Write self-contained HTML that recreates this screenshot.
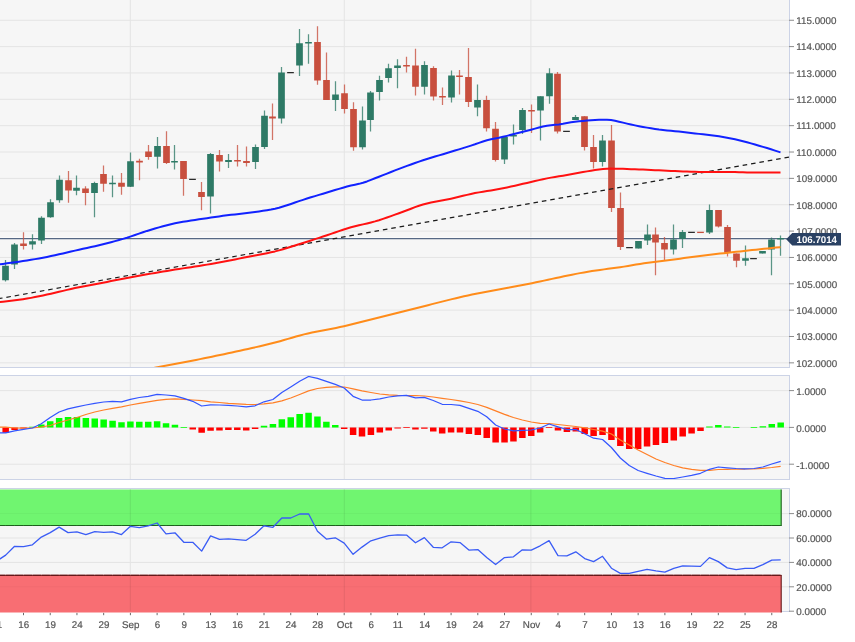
<!DOCTYPE html>
<html lang="en"><head><meta charset="utf-8"><title>Chart</title>
<style>html,body{margin:0;padding:0;background:#fff;overflow:hidden}svg{display:block}text{font-family:"Liberation Sans",Arial,Helvetica,sans-serif;font-size:9.8px;fill:#555555;text-rendering:geometricPrecision;stroke:#555555;stroke-width:0.2px}</style></head><body>
<svg width="855" height="642" viewBox="0 0 855 642">
<rect width="855" height="642" fill="#fff"/>
<defs><clipPath id="c1"><rect x="0" y="0" width="789" height="367"/></clipPath><clipPath id="c2"><rect x="0" y="376" width="789" height="103"/></clipPath><clipPath id="c3"><rect x="0" y="489.6" width="789" height="122.8"/></clipPath></defs>
<rect x="-2" y="-2" width="791.5" height="369.5" fill="#f6f6f6" stroke="#ccd3e6" stroke-width="1"/>
<rect x="-2" y="375.5" width="791.5" height="104" fill="#f6f6f6" stroke="#ccd3e6" stroke-width="1"/>
<rect x="-2" y="488.5" width="791.5" height="123" fill="#f6f6f6" stroke="#ccd3e6" stroke-width="1"/>
<path d="M0 362.85 H789 M0 336.5 H789 M0 310.14 H789 M0 283.79 H789 M0 257.44 H789 M0 231.08 H789 M0 204.73 H789 M0 178.37 H789 M0 152.02 H789 M0 125.67 H789 M0 99.31 H789 M0 72.96 H789 M0 46.6 H789 M0 20.25 H789 M0 390.6 H789 M0 427.4 H789 M0 464.2 H789 M0 513.6 H789 M0 538 H789 M0 562.4 H789 M0 586.8 H789 M130.3 0 V367 M130.3 376 V479 M130.3 489 V611 M344.29 0 V367 M344.29 376 V479 M344.29 489 V611 M530.86 0 V367 M530.86 376 V479 M530.86 489 V611" stroke="#e4e4e4" stroke-width="1" fill="none"/>
<g clip-path="url(#c3)">
<rect x="-3" y="484" width="784.2" height="41.6" fill="#70f570"/>
<path d="M0 525.5 H781.2" stroke="#2c7c2c" stroke-width="1.1" fill="none"/>
<path d="M0 525.5 H781.2" stroke="#1d601d" stroke-width="1.1" stroke-dasharray="8.208 0.7" stroke-dashoffset="2.87" fill="none"/>
<path d="M781.2 489 V526" stroke="#1d601d" stroke-width="1.1" fill="none"/>
<rect x="-3" y="575.3" width="784.2" height="41" fill="#f86e73"/>
<path d="M0 575.4 H781.2" stroke="#8a2a2c" stroke-width="1.1" fill="none"/>
<path d="M0 575.4 H781.2" stroke="#651818" stroke-width="1.1" stroke-dasharray="8.208 0.7" stroke-dashoffset="2.87" fill="none"/>
<path d="M781.2 574.9 V613" stroke="#651818" stroke-width="1.1" fill="none"/>
<path d="M130.3 489 V525 M130.3 576 V611 M344.29 489 V525 M344.29 576 V611 M530.86 489 V525 M530.86 576 V611" stroke="#000" stroke-opacity="0.08" stroke-width="1" fill="none"/>
<path d="M0 513.6 H780 M0 586.8 H780" stroke="#000" stroke-opacity="0.03" stroke-width="1" fill="none"/>
<path d="M-3.22 561 L5.68 555.1 L14.59 546.3 L23.5 546.6 L32.41 544.8 L41.32 537.1 L50.22 532.6 L59.13 527.1 L68.04 532.6 L76.95 531.8 L85.86 534.6 L94.76 531.6 L103.67 532.3 L112.58 531.8 L121.49 534.6 L130.4 526.3 L139.3 527.6 L148.21 525.8 L157.12 523 L166.03 533.8 L174.94 532.8 L183.84 542.3 L192.75 542.3 L201.66 551.1 L210.57 535.8 L219.48 539.3 L228.38 538.8 L237.29 539.6 L246.2 540.3 L255.11 534.3 L264.02 525.8 L272.92 527.3 L281.83 518 L290.74 518 L299.65 514 L308.56 513.8 L317.46 531.3 L326.37 539.1 L335.28 537.8 L344.19 543.1 L353.1 554.3 L362 547.1 L370.91 540.8 L379.82 538.1 L388.73 535.6 L397.64 534.8 L406.54 535.1 L415.45 542.8 L424.36 537.6 L433.27 547.3 L442.18 547.8 L451.08 541.8 L459.99 542.6 L468.9 550.1 L477.81 549.6 L486.72 557.6 L495.62 564.6 L504.53 557.6 L513.44 556.8 L522.35 549.8 L531.26 550.1 L540.16 545.8 L549.07 540.6 L557.98 555.6 L566.89 555.8 L575.8 551.8 L584.7 558.6 L593.61 561.6 L602.52 556.3 L611.43 568.2 L620.34 573.4 L629.24 573.4 L638.15 571.4 L647.06 569.4 L655.97 570.9 L664.88 572.1 L673.78 568.4 L682.69 565.9 L691.6 566.1 L700.51 566.4 L709.42 557.6 L718.32 561.6 L727.23 567.9 L736.14 569.6 L745.05 568.4 L753.96 568.4 L762.86 564.6 L771.77 560.1 L780.68 559.8" stroke="#3a5cf5" stroke-width="1.3" fill="none" stroke-linejoin="round"/>
</g>
<g clip-path="url(#c2)">
<path d="M29.16 426.8 h6.5 v0.8 h-6.5z M38.07 424.6 h6.5 v3 h-6.5z M46.97 421.3 h6.5 v6.3 h-6.5z M55.88 418.1 h6.5 v9.5 h-6.5z M64.79 417.1 h6.5 v10.5 h-6.5z M73.7 417.1 h6.5 v10.5 h-6.5z M82.61 418.1 h6.5 v9.5 h-6.5z M91.51 418.6 h6.5 v9 h-6.5z M100.42 419.6 h6.5 v8 h-6.5z M109.33 420.8 h6.5 v6.8 h-6.5z M118.24 422.3 h6.5 v5.3 h-6.5z M127.15 421.6 h6.5 v6 h-6.5z M136.05 421.8 h6.5 v5.8 h-6.5z M144.96 421.8 h6.5 v5.8 h-6.5z M153.87 421.3 h6.5 v6.3 h-6.5z M162.78 423.3 h6.5 v4.3 h-6.5z M171.69 424.8 h6.5 v2.8 h-6.5z M180.59 427.3 h6.5 v0.6 h-6.5z M260.77 425.8 h6.5 v1.8 h-6.5z M269.67 424.1 h6.5 v3.5 h-6.5z M278.58 419.3 h6.5 v8.3 h-6.5z M287.49 417.3 h6.5 v10.3 h-6.5z M296.4 414.1 h6.5 v13.5 h-6.5z M305.31 412.8 h6.5 v14.8 h-6.5z M314.21 416.6 h6.5 v11 h-6.5z M323.12 421.8 h6.5 v5.8 h-6.5z M332.03 425.1 h6.5 v2.5 h-6.5z M706.17 426.6 h6.5 v1 h-6.5z M715.07 425.1 h6.5 v2.5 h-6.5z M723.98 426.4 h6.5 v1.2 h-6.5z M732.89 427.3 h6.5 v0.6 h-6.5z M750.71 427.3 h6.5 v0.6 h-6.5z M759.61 426.3 h6.5 v1.3 h-6.5z M768.52 424.1 h6.5 v3.5 h-6.5z M777.43 422.6 h6.5 v5 h-6.5z" fill="#00ff00"/>
<path d="M2.43 427.6 h6.5 v5.2 h-6.5z M11.34 427.6 h6.5 v2.5 h-6.5z M20.25 427.6 h6.5 v1 h-6.5z M189.5 427.6 h6.5 v1.8 h-6.5z M198.41 427.6 h6.5 v5.2 h-6.5z M207.32 427.6 h6.5 v3.2 h-6.5z M216.23 427.6 h6.5 v3 h-6.5z M225.13 427.6 h6.5 v2.5 h-6.5z M234.04 427.6 h6.5 v2.3 h-6.5z M242.95 427.6 h6.5 v2.8 h-6.5z M251.86 427.6 h6.5 v1.5 h-6.5z M340.94 427.6 h6.5 v1.5 h-6.5z M349.85 427.6 h6.5 v7.5 h-6.5z M358.75 427.6 h6.5 v9 h-6.5z M367.66 427.6 h6.5 v7.3 h-6.5z M376.57 427.6 h6.5 v5 h-6.5z M385.48 427.6 h6.5 v2.8 h-6.5z M394.39 427.6 h6.5 v1 h-6.5z M403.29 427.3 h6.5 v0.6 h-6.5z M412.2 427.6 h6.5 v1.8 h-6.5z M421.11 427.6 h6.5 v1.2 h-6.5z M430.02 427.6 h6.5 v4 h-6.5z M438.93 427.6 h6.5 v5.8 h-6.5z M447.83 427.6 h6.5 v4.8 h-6.5z M456.74 427.6 h6.5 v4.8 h-6.5z M465.65 427.6 h6.5 v6.5 h-6.5z M474.56 427.6 h6.5 v7.3 h-6.5z M483.47 427.6 h6.5 v10.3 h-6.5z M492.37 427.6 h6.5 v14.8 h-6.5z M501.28 427.6 h6.5 v14.8 h-6.5z M510.19 427.6 h6.5 v14 h-6.5z M519.1 427.6 h6.5 v10.5 h-6.5z M528.01 427.6 h6.5 v8.3 h-6.5z M536.91 427.6 h6.5 v4.8 h-6.5z M545.82 427.3 h6.5 v0.6 h-6.5z M554.73 427.6 h6.5 v3 h-6.5z M563.64 427.6 h6.5 v4.5 h-6.5z M572.55 427.6 h6.5 v4 h-6.5z M581.45 427.6 h6.5 v6.5 h-6.5z M590.36 427.6 h6.5 v8.3 h-6.5z M599.27 427.6 h6.5 v7.3 h-6.5z M608.18 427.6 h6.5 v12.3 h-6.5z M617.09 427.6 h6.5 v18.3 h-6.5z M625.99 427.6 h6.5 v21.3 h-6.5z M634.9 427.6 h6.5 v21.3 h-6.5z M643.81 427.6 h6.5 v19 h-6.5z M652.72 427.6 h6.5 v17.3 h-6.5z M661.63 427.6 h6.5 v15.5 h-6.5z M670.53 427.6 h6.5 v12.8 h-6.5z M679.44 427.6 h6.5 v9 h-6.5z M688.35 427.6 h6.5 v5.8 h-6.5z M697.26 427.6 h6.5 v3.3 h-6.5z" fill="#ff0000"/>
<path d="M-3.22 426.9 L5.68 427.2 L14.59 428 L23.5 428.2 L32.41 428 L41.32 427 L50.22 425.5 L59.13 422.5 L68.04 420 L76.95 417.5 L85.86 414.5 L94.76 412 L103.67 410 L112.58 408.3 L121.49 406.8 L130.4 405 L139.3 403.3 L148.21 401.8 L157.12 400.3 L166.03 399.3 L174.94 398.8 L183.84 399.3 L192.75 400 L201.66 400.7 L210.57 401.8 L219.48 402.5 L228.38 403.3 L237.29 403.8 L246.2 404.3 L255.11 404.5 L264.02 403.8 L272.92 402.8 L281.83 400.8 L290.74 398 L299.65 394.5 L308.56 390.8 L317.46 388.5 L326.37 387.3 L335.28 386.8 L344.19 387 L353.1 388.8 L362 390.8 L370.91 392.5 L379.82 394 L388.73 394.8 L397.64 395.3 L406.54 395.5 L415.45 395.5 L424.36 396 L433.27 397 L442.18 398.3 L451.08 399.5 L459.99 400.8 L468.9 402.5 L477.81 404.5 L486.72 407.3 L495.62 410.8 L504.53 414.3 L513.44 417.5 L522.35 420 L531.26 422 L540.16 423.3 L549.07 423.5 L557.98 424.5 L566.89 425.5 L575.8 426.5 L584.7 427.8 L593.61 429.5 L602.52 431.2 L611.43 434 L620.34 440 L629.24 445 L638.15 450 L647.06 454.5 L655.97 459 L664.88 462.5 L673.78 465.5 L682.69 467.8 L691.6 469.3 L700.51 470.3 L709.42 470.3 L718.32 469.5 L727.23 469.3 L736.14 469 L745.05 469 L753.96 468.8 L762.86 468.3 L771.77 467.5 L780.68 466.3" stroke="#ff7f27" stroke-width="1.25" fill="none" stroke-linejoin="round"/>
<path d="M-3.22 433.1 L5.68 432.8 L14.59 430.8 L23.5 429.3 L32.41 428 L41.32 423.8 L50.22 417.5 L59.13 412 L68.04 408.8 L76.95 406.8 L85.86 405 L94.76 403.3 L103.67 402 L112.58 401.3 L121.49 401.8 L130.4 399.3 L139.3 397.5 L148.21 396.3 L157.12 394.3 L166.03 395 L174.94 395.8 L183.84 398.3 L192.75 401.3 L201.66 406 L210.57 404.8 L219.48 405 L228.38 405.3 L237.29 406 L246.2 406.8 L255.11 405.8 L264.02 401.8 L272.92 399.5 L281.83 392.5 L290.74 387 L299.65 381.3 L308.56 376.5 L317.46 378.3 L326.37 381.3 L335.28 384.3 L344.19 388 L353.1 396.3 L362 400 L370.91 400 L379.82 398.8 L388.73 397 L397.64 395.8 L406.54 395.4 L415.45 397.8 L424.36 397.3 L433.27 400.5 L442.18 404.3 L451.08 404.5 L459.99 405.3 L468.9 408.3 L477.81 411.3 L486.72 416.8 L495.62 425 L504.53 429 L513.44 430.8 L522.35 430.3 L531.26 430 L540.16 428 L549.07 424 L557.98 426.8 L566.89 429.5 L575.8 429.5 L584.7 433.8 L593.61 438.2 L602.52 439.5 L611.43 447.5 L620.34 458 L629.24 465.5 L638.15 470.5 L647.06 473.3 L655.97 476 L664.88 478.3 L673.78 478.5 L682.69 477 L691.6 475.3 L700.51 473.3 L709.42 469.3 L718.32 467 L727.23 467.8 L736.14 468.5 L745.05 468.8 L753.96 468.5 L762.86 467 L771.77 464 L780.68 461.3" stroke="#3355ff" stroke-width="1.25" fill="none" stroke-linejoin="round"/>
</g>
<g clip-path="url(#c1)">
<path d="M0 237.5 H789" stroke="#fff" stroke-opacity="0.7" stroke-width="0.8" fill="none"/>
<path d="M0 238.7 H789" stroke="#566884" stroke-width="1.3" fill="none"/>
<path d="M5.5 260.1 V281.5 M14.5 242.9 V269 M32.5 234.2 V249.6 M41.5 216.2 V244.1 M50.5 199.3 V217.7 M59.5 175.6 V202.8 M76.5 175.6 V195.3 M94.5 181.8 V217.2 M112.5 175.6 V197.3 M130.5 152.4 V187 M157.5 137 V168.5 M174.5 145.1 V169.6 M210.5 153 V213.4 M228.5 153.9 V168.1 M255.5 144.6 V168.9 M264.5 110.6 V148.9 M281.5 67 V123.6 M299.5 29 V75.9 M308.5 34.3 V63.8 M335.5 81.3 V111.1 M362.5 106.4 V149.4 M370.5 90.9 V131.4 M379.5 75.8 V100.6 M388.5 63.8 V82.6 M397.5 59.3 V88.3 M424.5 61.3 V94.6 M451.5 70.6 V102.6 M477.5 84.5 V116.3 M504.5 136 V163.9 M513.5 124.6 V144.4 M522.5 108.1 V133.9 M540.5 96.3 V140.6 M549.5 68.3 V103.8 M575.5 115.1 V120.1 M602.5 135.1 V166.6 M638.5 240.9 V248.4 M647.5 224.4 V245.1 M673.5 224.4 V254.4 M682.5 230.1 V248.1 M709.5 204.6 V233.9 M745.5 245.6 V265.7 M762.5 250.9 V253.4 M771.5 237.6 V275.2 M780.5 235.6 V255.7" stroke="#2e7a66" stroke-width="1.25" stroke-opacity="0.78" fill="none"/>
<path d="M23.5 232.2 V249.6 M68.5 171.1 V202.8 M85.5 186.3 V205.3 M103.5 165.6 V191.8 M121.5 172.9 V194.8 M139.5 158.7 V180.3 M148.5 145 V159.8 M166.5 131.3 V164.1 M183.5 160.9 V195.7 M201.5 181.9 V210.2 M219.5 150.1 V171.4 M237.5 145.1 V166.4 M246.5 146.4 V166.4 M272.5 103.6 V139.9 M317.5 26.3 V84.8 M326.5 52.4 V100.1 M344.5 84.6 V113.6 M353.5 102.3 V150.7 M406.5 56.8 V72.6 M415.5 48.8 V95.6 M433.5 66.3 V100.6 M442.5 87.6 V105.1 M459.5 70.1 V94.6 M468.5 48 V107.1 M486.5 95.8 V131.4 M495.5 122.1 V161.4 M531.5 104.6 V133.1 M557.5 72 V133.4 M584.5 116.3 V150.6 M593.5 135.1 V168.5 M611.5 125.1 V212.1 M620.5 192.6 V250.1 M655.5 227.6 V275.2 M664.5 236.9 V260.2 M718.5 210.1 V227.6 M727.5 225.1 V256.4 M736.5 253.4 V267.2" stroke="#c84f3e" stroke-width="1.25" stroke-opacity="0.78" fill="none"/>
<path d="M2.15 265.8 h6.7 v14.5 h-6.7 z M11.15 244.6 h6.7 v20 h-6.7 z M29.15 241.2 h6.7 v3.4 h-6.7 z M38.15 217.7 h6.7 v22.7 h-6.7 z M47.15 202.3 h6.7 v14.9 h-6.7 z M56.15 179.8 h6.7 v20.5 h-6.7 z M73.15 187.8 h6.7 v3 h-6.7 z M91.15 183.1 h6.7 v9.9 h-6.7 z M109.15 182.8 h6.7 v1.5 h-6.7 z M127.15 161.2 h6.7 v25.6 h-6.7 z M154.15 146 h6.7 v10.8 h-6.7 z M171.15 160.9 h6.7 v1.7 h-6.7 z M207.15 153.9 h6.7 v42.5 h-6.7 z M225.15 160.1 h6.7 v1.8 h-6.7 z M252.15 147.1 h6.7 v15 h-6.7 z M261.15 115.8 h6.7 v31.3 h-6.7 z M278.15 72.5 h6.7 v45.9 h-6.7 z M296.15 43.3 h6.7 v22.3 h-6.7 z M305.15 41.9 h6.7 v1.7 h-6.7 z M332.15 94.6 h6.7 v5.5 h-6.7 z M359.15 120.6 h6.7 v26.6 h-6.7 z M367.15 92.6 h6.7 v27.5 h-6.7 z M376.15 80.1 h6.7 v12 h-6.7 z M385.15 68.3 h6.7 v9.8 h-6.7 z M394.15 65.6 h6.7 v2.5 h-6.7 z M421.15 65.1 h6.7 v21.7 h-6.7 z M448.15 75.6 h6.7 v22 h-6.7 z M474.15 100.1 h6.7 v7.5 h-6.7 z M501.15 136.9 h6.7 v22.5 h-6.7 z M510.15 135.1 h6.7 v1.5 h-6.7 z M519.15 110.1 h6.7 v20 h-6.7 z M537.15 96.3 h6.7 v14.3 h-6.7 z M546.15 73.3 h6.7 v23 h-6.7 z M572.15 117.1 h6.7 v3 h-6.7 z M599.15 140.6 h6.7 v21.3 h-6.7 z M635.15 240.9 h6.7 v7.5 h-6.7 z M644.15 234.6 h6.7 v6 h-6.7 z M670.15 239.4 h6.7 v10.2 h-6.7 z M679.15 232.1 h6.7 v6.8 h-6.7 z M706.15 210.1 h6.7 v22.5 h-6.7 z M742.15 258.2 h6.7 v2.5 h-6.7 z M759.15 250.9 h6.7 v2.5 h-6.7 z M768.15 239.4 h6.7 v10 h-6.7 z M777.15 238 h6.7 v1.4 h-6.7 z" fill="#2e7a66"/>
<path d="M20.15 243.6 h6.7 v2.5 h-6.7 z M65.15 180.3 h6.7 v10.3 h-6.7 z M82.15 188.6 h6.7 v4.4 h-6.7 z M100.15 173.9 h6.7 v9.9 h-6.7 z M118.15 182.8 h6.7 v4 h-6.7 z M136.15 160.7 h6.7 v1.7 h-6.7 z M145.15 151.4 h6.7 v5.6 h-6.7 z M163.15 145.9 h6.7 v17.2 h-6.7 z M180.15 160.9 h6.7 v18 h-6.7 z M198.15 191.9 h6.7 v5 h-6.7 z M216.15 155.1 h6.7 v6.3 h-6.7 z M234.15 160.05 h6.7 v1.4 h-6.7 z M243.15 161.1 h6.7 v1.8 h-6.7 z M269.15 116.5 h6.7 v1.9 h-6.7 z M314.15 41.9 h6.7 v38.7 h-6.7 z M323.15 80.1 h6.7 v20 h-6.7 z M341.15 93.2 h6.7 v15.7 h-6.7 z M350.15 108.9 h6.7 v38.3 h-6.7 z M403.15 65.05 h6.7 v1.4 h-6.7 z M412.15 65.6 h6.7 v21.2 h-6.7 z M430.15 68.1 h6.7 v28.3 h-6.7 z M439.15 95.9 h6.7 v1.7 h-6.7 z M456.15 75.6 h6.7 v1.5 h-6.7 z M465.15 77.1 h6.7 v24.8 h-6.7 z M483.15 100.1 h6.7 v28.2 h-6.7 z M492.15 128.8 h6.7 v31.3 h-6.7 z M528.15 110.05 h6.7 v1.4 h-6.7 z M554.15 73.8 h6.7 v57.6 h-6.7 z M581.15 116.3 h6.7 v30.8 h-6.7 z M590.15 147.1 h6.7 v14.8 h-6.7 z M608.15 140.6 h6.7 v67.5 h-6.7 z M617.15 208.1 h6.7 v38.8 h-6.7 z M652.15 234.6 h6.7 v8 h-6.7 z M661.15 243.1 h6.7 v6.5 h-6.7 z M715.15 210.1 h6.7 v16.3 h-6.7 z M724.15 227.1 h6.7 v25.6 h-6.7 z M733.15 253.4 h6.7 v7.3 h-6.7 z" fill="#c84f3e"/>
<path d="M189.15 178.75 h6.7 v1.3 h-6.7 z M287.15 71.95 h6.7 v1.3 h-6.7 z M563.15 130.75 h6.7 v1.3 h-6.7 z M626.15 246.95 h6.7 v1.3 h-6.7 z M688.15 231.75 h6.7 v1.3 h-6.7 z M750.15 258.05 h6.7 v1.3 h-6.7 z" fill="#2b2b2b"/>
<path d="M697.15 231.75 h6.7 v1.3 h-6.7 z" fill="#c84f3e"/>
<path d="M-2 298.8 L792 156.6" stroke="#1a1a1a" stroke-width="1.2" stroke-dasharray="4.6 3.9" fill="none"/>
<path d="M140 370.8 L144 369.97 L148 369.15 L152 368.34 L156 367.54 L160 366.76 L164 365.99 L168 365.23 L172 364.48 L176 363.72 L180 362.97 L184 362.22 L188 361.46 L192 360.7 L196 359.92 L200 359.13 L204 358.33 L208 357.51 L212 356.68 L216 355.85 L220 355.01 L224 354.17 L228 353.32 L232 352.46 L236 351.6 L240 350.72 L244 349.84 L248 348.94 L252 348.03 L256 347.11 L260 346.17 L264 345.22 L268 344.26 L272 343.27 L276 342.26 L280 341.18 L284 340.04 L288 338.87 L292 337.7 L296 336.54 L300 335.43 L304 334.38 L308 333.42 L312 332.53 L316 331.71 L320 330.93 L324 330.18 L328 329.44 L332 328.69 L336 327.91 L340 327.1 L344 326.24 L348 325.29 L352 324.27 L356 323.23 L360 322.2 L364 321.19 L368 320.19 L372 319.18 L376 318.18 L380 317.17 L384 316.17 L388 315.17 L392 314.17 L396 313.17 L400 312.18 L404 311.18 L408 310.19 L412 309.2 L416 308.2 L420 307.2 L424 306.18 L428 305.16 L432 304.14 L436 303.12 L440 302.11 L444 301.1 L448 300.11 L452 299.13 L456 298.17 L460 297.23 L464 296.32 L468 295.43 L472 294.58 L476 293.75 L480 292.95 L484 292.18 L488 291.42 L492 290.67 L496 289.94 L500 289.22 L504 288.49 L508 287.77 L512 287.04 L516 286.3 L520 285.55 L524 284.79 L528 284 L532 283.19 L536 282.35 L540 281.5 L544 280.64 L548 279.77 L552 278.89 L556 278.02 L560 277.16 L564 276.31 L568 275.47 L572 274.66 L576 273.88 L580 273.13 L584 272.41 L588 271.73 L592 271.09 L596 270.49 L600 269.92 L604 269.37 L608 268.83 L612 268.3 L616 267.76 L620 267.2 L624 266.62 L628 266 L632 265.31 L636 264.57 L640 263.9 L644 263.31 L648 262.77 L652 262.25 L656 261.76 L660 261.27 L664 260.79 L668 260.31 L672 259.8 L676 259.28 L680 258.71 L684 258.09 L688 257.48 L692 256.93 L696 256.42 L700 255.91 L704 255.43 L708 254.95 L712 254.49 L716 254.04 L720 253.59 L724 253.15 L728 252.72 L732 252.28 L736 251.84 L740 251.4 L744 250.96 L748 250.52 L752 250.09 L756 249.66 L760 249.23 L764 248.81 L768 248.39 L772 247.97 L776 247.56 L780 247.15 L780.5 247.1" stroke="#ff8c1a" stroke-width="2" fill="none" stroke-linejoin="round"/>
<path d="M-5 302.7 L-1 302.22 L3 301.74 L7 301.26 L11 300.79 L15 300.29 L19 299.77 L23 299.2 L27 298.58 L31 297.87 L35 297.09 L39 296.27 L43 295.42 L47 294.55 L51 293.68 L55 292.78 L59 291.83 L63 290.86 L67 289.9 L71 288.98 L75 288.1 L79 287.28 L83 286.5 L87 285.75 L91 285 L95 284.26 L99 283.49 L103 282.71 L107 281.9 L111 281.09 L115 280.27 L119 279.47 L123 278.68 L127 277.92 L131 277.18 L135 276.45 L139 275.73 L143 275.02 L147 274.32 L151 273.63 L155 272.93 L159 272.25 L163 271.57 L167 270.9 L171 270.25 L175 269.6 L179 268.98 L183 268.38 L187 267.78 L191 267.19 L195 266.59 L199 265.96 L203 265.31 L207 264.63 L211 263.94 L215 263.23 L219 262.51 L223 261.77 L227 261.02 L231 260.24 L235 259.45 L239 258.63 L243 257.82 L247 257 L251 256.2 L255 255.43 L259 254.68 L263 253.93 L267 253.15 L271 252.31 L275 251.4 L279 250.37 L283 249.24 L287 248.02 L291 246.76 L295 245.48 L299 244.21 L303 242.97 L307 241.71 L311 240.43 L315 239.15 L319 237.85 L323 236.55 L327 235.24 L331 233.88 L335 232.49 L339 231.1 L343 229.76 L347 228.49 L351 227.32 L355 226.28 L359 225.32 L363 224.39 L367 223.47 L371 222.48 L375 221.4 L379 220.2 L383 218.89 L387 217.52 L391 216.11 L395 214.67 L399 213.25 L403 211.81 L407 210.27 L411 208.7 L415 207.15 L419 205.71 L423 204.45 L427 203.41 L431 202.52 L435 201.73 L439 201 L443 200.27 L447 199.52 L451 198.68 L455 197.77 L459 196.8 L463 195.82 L467 194.85 L471 193.93 L475 193.1 L479 192.36 L483 191.7 L487 191.06 L491 190.44 L495 189.79 L499 189.09 L503 188.31 L507 187.47 L511 186.59 L515 185.68 L519 184.76 L523 183.85 L527 182.95 L531 182.02 L535 181.07 L539 180.13 L543 179.22 L547 178.38 L551 177.62 L555 176.98 L559 176.36 L563 175.68 L567 174.97 L571 174.24 L575 173.52 L579 172.79 L583 172.06 L587 171.37 L591 170.69 L595 170.01 L599 169.42 L603 169.02 L607 168.72 L611 168.6 L615 168.64 L619 168.74 L623 168.87 L627 169 L631 169.13 L635 169.26 L639 169.4 L643 169.56 L647 169.73 L651 169.93 L655 170.14 L659 170.36 L663 170.58 L667 170.78 L671 170.96 L675 171.12 L679 171.29 L683 171.45 L687 171.6 L691 171.73 L695 171.83 L699 171.89 L703 171.92 L707 171.93 L711 171.94 L715 171.95 L719 171.96 L723 171.98 L727 171.99 L731 172.03 L735 172.1 L739 172.2 L743 172.3 L747 172.39 L751 172.46 L755 172.5 L759 172.5 L763 172.5 L767 172.5 L771 172.5 L775 172.5 L779 172.5 L780.5 172.5" stroke="#ff1111" stroke-width="2" fill="none" stroke-linejoin="round"/>
<path d="M-5 265 L-1 264.44 L3 263.89 L7 263.34 L11 262.81 L15 262.26 L19 261.7 L23 261.11 L27 260.48 L31 259.82 L35 259.13 L39 258.41 L43 257.67 L47 256.9 L51 256.1 L55 255.24 L59 254.34 L63 253.41 L67 252.46 L71 251.52 L75 250.6 L79 249.71 L83 248.84 L87 247.97 L91 247.09 L95 246.18 L99 245.24 L103 244.26 L107 243.25 L111 242.21 L115 241.14 L119 240.03 L123 238.89 L127 237.69 L131 236.39 L135 235.02 L139 233.63 L143 232.25 L147 230.92 L151 229.7 L155 228.52 L159 227.35 L163 226.22 L167 225.16 L171 224.17 L175 223.3 L179 222.53 L183 221.82 L187 221.17 L191 220.55 L195 219.95 L199 219.35 L203 218.74 L207 218.14 L211 217.55 L215 216.97 L219 216.41 L223 215.86 L227 215.34 L231 214.86 L235 214.39 L239 213.94 L243 213.48 L247 212.99 L251 212.47 L255 211.94 L259 211.41 L263 210.86 L267 210.26 L271 209.58 L275 208.8 L279 207.8 L283 206.56 L287 205.26 L291 203.93 L295 202.52 L299 201.13 L303 199.83 L307 198.56 L311 197.32 L315 196.1 L319 194.9 L323 193.7 L327 192.5 L331 191.28 L335 190.05 L339 188.85 L343 187.68 L347 186.58 L351 185.56 L355 184.7 L359 183.85 L363 182.81 L367 181.44 L371 179.87 L375 178.3 L379 176.76 L383 175.18 L387 173.58 L391 171.99 L395 170.41 L399 168.88 L403 167.38 L407 165.9 L411 164.44 L415 163.01 L419 161.61 L423 160.26 L427 158.96 L431 157.72 L435 156.52 L439 155.35 L443 154.19 L447 153.01 L451 151.79 L455 150.57 L459 149.34 L463 148.1 L467 146.85 L471 145.59 L475 144.3 L479 142.91 L483 141.48 L487 140.23 L491 139.29 L495 138.51 L499 137.72 L503 136.81 L507 135.85 L511 134.84 L515 133.82 L519 132.8 L523 131.79 L527 130.8 L531 129.73 L535 128.63 L539 127.56 L543 126.59 L547 125.77 L551 125.18 L555 124.79 L559 124.42 L563 123.85 L567 123.1 L571 122.35 L575 121.78 L579 121.31 L583 120.91 L587 120.57 L591 120.27 L595 119.97 L599 119.76 L603 119.7 L607 119.77 L611 119.94 L615 120.77 L619 121.68 L623 122.65 L627 123.62 L631 124.52 L635 125.36 L639 126.16 L643 126.92 L647 127.64 L651 128.34 L655 128.98 L659 129.53 L663 129.99 L667 130.4 L671 130.8 L675 131.2 L679 131.59 L683 131.98 L687 132.41 L691 132.89 L695 133.39 L699 133.88 L703 134.34 L707 134.77 L711 135.22 L715 135.74 L719 136.33 L723 136.99 L727 137.71 L731 138.49 L735 139.35 L739 140.28 L743 141.25 L747 142.28 L751 143.38 L755 144.52 L759 145.67 L763 146.85 L767 148.07 L771 149.31 L775 150.59 L779 151.9 L780.5 152.4" stroke="#1122ff" stroke-width="2" fill="none" stroke-linejoin="round"/>
</g>
<path d="M789 362.85 H794 M789 336.5 H794 M789 310.14 H794 M789 283.79 H794 M789 257.44 H794 M789 231.08 H794 M789 204.73 H794 M789 178.37 H794 M789 152.02 H794 M789 125.67 H794 M789 99.31 H794 M789 72.96 H794 M789 46.6 H794 M789 20.25 H794 M789 390.6 H794 M789 427.4 H794 M789 464.2 H794 M789 513.6 H794 M789 538 H794 M789 562.4 H794 M789 586.8 H794 M789 611.2 H794" stroke="#8c8c8c" stroke-width="1" fill="none"/>
<path d="M23.5 612.9 V615.2 M50.22 612.9 V615.2 M76.95 612.9 V615.2 M103.67 612.9 V615.2 M130.4 612.9 V615.2 M157.12 612.9 V615.2 M183.84 612.9 V615.2 M210.57 612.9 V615.2 M237.29 612.9 V615.2 M264.02 612.9 V615.2 M290.74 612.9 V615.2 M317.46 612.9 V615.2 M344.19 612.9 V615.2 M370.91 612.9 V615.2 M397.64 612.9 V615.2 M424.36 612.9 V615.2 M451.08 612.9 V615.2 M477.81 612.9 V615.2 M504.53 612.9 V615.2 M531.26 612.9 V615.2 M557.98 612.9 V615.2 M584.7 612.9 V615.2 M611.43 612.9 V615.2 M638.15 612.9 V615.2 M664.88 612.9 V615.2 M691.6 612.9 V615.2 M718.32 612.9 V615.2 M745.05 612.9 V615.2 M771.77 612.9 V615.2" stroke="#6a6a6a" stroke-width="1" fill="none"/>
<g><text x="796.3" y="366.65">102.0000</text><text x="796.3" y="340.3">103.0000</text><text x="796.3" y="313.94">104.0000</text><text x="796.3" y="287.59">105.0000</text><text x="796.3" y="261.24">106.0000</text><text x="796.3" y="234.88">107.0000</text><text x="796.3" y="208.53">108.0000</text><text x="796.3" y="182.17">109.0000</text><text x="796.3" y="155.82">110.0000</text><text x="796.3" y="129.47">111.0000</text><text x="796.3" y="103.11">112.0000</text><text x="796.3" y="76.76">113.0000</text><text x="796.3" y="50.4">114.0000</text><text x="796.3" y="24.05">115.0000</text><text x="796.3" y="394.9">1.0000</text><text x="796.3" y="431.7">0.0000</text><text x="796.3" y="468.5">-1.0000</text><text x="796.3" y="517.4">80.0000</text><text x="796.3" y="541.8">60.0000</text><text x="796.3" y="566.2">40.0000</text><text x="796.3" y="590.6">20.0000</text><text x="796.3" y="615">0.0000</text><text x="23.8" y="628.2" text-anchor="middle">16</text><text x="50.52" y="628.2" text-anchor="middle">19</text><text x="77.25" y="628.2" text-anchor="middle">24</text><text x="103.97" y="628.2" text-anchor="middle">29</text><text x="130.7" y="628.2" text-anchor="middle">Sep</text><text x="157.42" y="628.2" text-anchor="middle">6</text><text x="184.14" y="628.2" text-anchor="middle">9</text><text x="210.87" y="628.2" text-anchor="middle">13</text><text x="237.59" y="628.2" text-anchor="middle">16</text><text x="264.32" y="628.2" text-anchor="middle">21</text><text x="291.04" y="628.2" text-anchor="middle">24</text><text x="317.76" y="628.2" text-anchor="middle">28</text><text x="344.49" y="628.2" text-anchor="middle">Oct</text><text x="371.21" y="628.2" text-anchor="middle">6</text><text x="397.94" y="628.2" text-anchor="middle">11</text><text x="424.66" y="628.2" text-anchor="middle">14</text><text x="451.38" y="628.2" text-anchor="middle">19</text><text x="478.11" y="628.2" text-anchor="middle">24</text><text x="504.83" y="628.2" text-anchor="middle">27</text><text x="531.56" y="628.2" text-anchor="middle">Nov</text><text x="558.28" y="628.2" text-anchor="middle">4</text><text x="585" y="628.2" text-anchor="middle">7</text><text x="611.73" y="628.2" text-anchor="middle">10</text><text x="638.45" y="628.2" text-anchor="middle">13</text><text x="665.18" y="628.2" text-anchor="middle">16</text><text x="691.9" y="628.2" text-anchor="middle">19</text><text x="718.62" y="628.2" text-anchor="middle">22</text><text x="745.35" y="628.2" text-anchor="middle">25</text><text x="772.07" y="628.2" text-anchor="middle">28</text><text x="-2.82" y="628.2" text-anchor="middle">11</text></g>
<path d="M786.2 239.2 L792.2 233 H841 V245.6 H792.2 Z" fill="#2a4163"/>
<text x="796.6" y="242.9" style="fill:#fff;font-weight:bold;stroke:none;font-size:9.7px">106.7014</text>
</svg></body></html>
